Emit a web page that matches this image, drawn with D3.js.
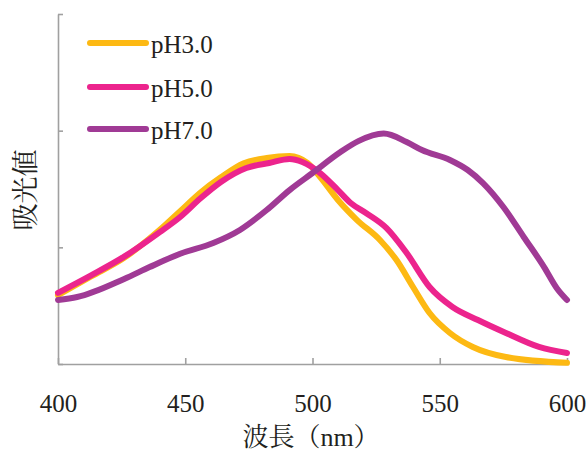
<!DOCTYPE html>
<html>
<head>
<meta charset="utf-8">
<script src="https://cdn.jsdelivr.net/npm/d3@7.9.0/dist/d3.min.js"></script>
<style>
  html, body { margin: 0; padding: 0; background: #fff; }
  text { font-family: "Liberation Serif", "Noto Serif CJK JP", serif; fill: #231f20; }
</style>
</head>
<body>
<div id="chart"></div>
<script>
// wavelength (nm) / absorbance readings per series
const ph3Wave = [400, 413, 426, 440, 448, 456, 464, 473, 482, 491, 498, 503, 510, 517.5, 526.5, 533, 539.5, 546, 554, 563, 576, 600];
const ph3Abs  = [0.59, 0.75, 0.91, 1.15, 1.31, 1.47, 1.60, 1.72, 1.766, 1.783, 1.723, 1.603, 1.406, 1.234, 1.063, 0.891, 0.66, 0.437, 0.266, 0.146, 0.06, 0.01];

const ph5Wave = [400, 413, 426, 440, 448, 456, 464, 474, 483, 491, 496, 503, 510, 515, 521, 529, 537, 546, 555, 565, 576, 589, 600];
const ph5Abs  = [0.61, 0.76, 0.92, 1.13, 1.26, 1.42, 1.56, 1.68, 1.723, 1.757, 1.731, 1.637, 1.491, 1.38, 1.294, 1.166, 0.951, 0.66, 0.489, 0.377, 0.266, 0.146, 0.094];

const ph7Wave = [400, 407.5, 426, 436, 448, 461, 471.5, 482, 491, 500, 511, 518, 528, 537, 543, 554, 561, 567, 575, 583, 591, 596, 600];
const ph7Abs  = [0.549, 0.574, 0.729, 0.831, 0.945, 1.037, 1.149, 1.32, 1.491, 1.637, 1.817, 1.91, 1.975, 1.903, 1.834, 1.749, 1.663, 1.551, 1.346, 1.089, 0.831, 0.65, 0.549];

const seriesNames = ['pH3.0', 'pH5.0', 'pH7.0'];
const seriesColors = ['#FDB913', '#EC248D', '#A03A95'];
const xTicks = [400, 450, 500, 550, 600];
const yTicks = [0, 1, 2, 3];

const series = [
  { name: seriesNames[0], color: seriesColors[0], pts: ph3Wave.map((w, i) => [w, ph3Abs[i]]) },
  { name: seriesNames[1], color: seriesColors[1], pts: ph5Wave.map((w, i) => [w, ph5Abs[i]]) },
  { name: seriesNames[2], color: seriesColors[2], pts: ph7Wave.map((w, i) => [w, ph7Abs[i]]) },
];

const width = 587;
const height = 451;
const margin = { top: 14, right: 20, bottom: 87, left: 58 };

const svg = d3.select('#chart')
  .append('svg')
  .attr('width', width)
  .attr('height', height);

const xScale = d3.scaleLinear().domain([400, 600]).range([margin.left, width - margin.right]);
const yScale = d3.scaleLinear().domain([0, 3]).range([height - margin.bottom, margin.top]);

// axes, ticks pointing inward, no y labels
const xAxis = svg.append('g')
  .attr('transform', `translate(0, ${yScale(0)})`)
  .call(d3.axisBottom(xScale).tickValues(xTicks).tickSize(-6).tickSizeOuter(0).tickPadding(30));

const yAxis = svg.append('g')
  .attr('transform', `translate(${xScale(400)}, 0)`)
  .call(d3.axisLeft(yScale).tickValues(yTicks).tickSize(-5).tickSizeOuter(0).tickFormat(''));

[xAxis, yAxis].forEach(g => {
  g.attr('font-family', null);
  g.select('.domain').attr('stroke', '#a0a0a0').attr('stroke-width', 1.6);
  g.selectAll('.tick line').attr('stroke', '#a0a0a0').attr('stroke-width', 1.6);
});
xAxis.selectAll('.tick text')
  .attr('font-size', 25)
  .attr('fill', '#231f20');

// lines
const line = d3.line()
  .x(d => xScale(d[0]))
  .y(d => yScale(d[1]))
  .curve(d3.curveMonotoneX);

svg.append('g')
  .selectAll('path')
  .data(series)
  .join('path')
  .attr('d', d => line(d.pts))
  .attr('fill', 'none')
  .attr('stroke', d => d.color)
  .attr('stroke-width', 6)
  .attr('stroke-linecap', 'round')
  .attr('stroke-linejoin', 'round');

// legend
const legend = svg.append('g');
const legendY = [43, 87, 129];
series.forEach((s, i) => {
  legend.append('line')
    .attr('x1', 90).attr('x2', 146)
    .attr('y1', legendY[i]).attr('y2', legendY[i])
    .attr('stroke', s.color)
    .attr('stroke-width', 6)
    .attr('stroke-linecap', 'round');
  legend.append('text')
    .attr('x', 151)
    .attr('y', legendY[i] + 10)
    .attr('font-size', 25)
    .text(s.name);
});

// axis titles
svg.append('text')
  .attr('x', 311)
  .attr('y', 446)
  .attr('text-anchor', 'middle')
  .attr('font-size', 26)
  .text('波長（nm）');

svg.append('text')
  .attr('transform', 'translate(35, 190) rotate(-90)')
  .attr('text-anchor', 'middle')
  .attr('font-size', 27)
  .text('吸光値');
</script>
</body>
</html>
